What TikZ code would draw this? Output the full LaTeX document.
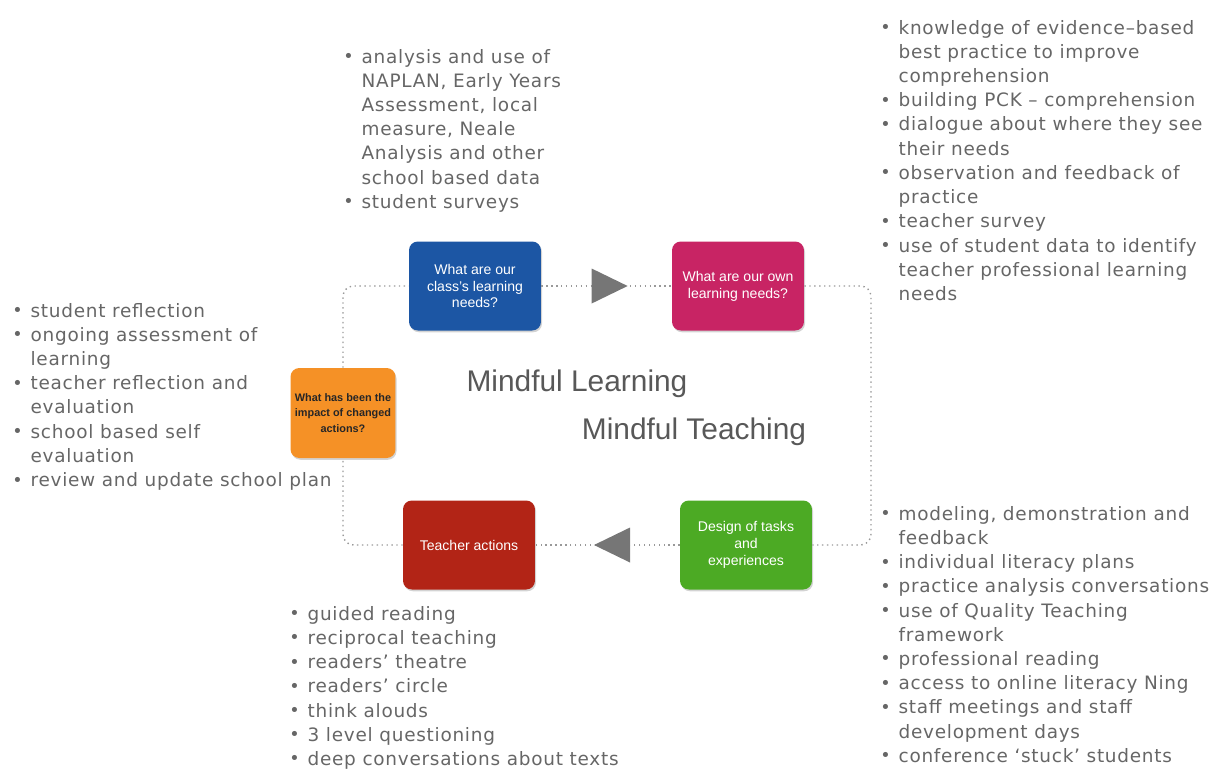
\documentclass[tikz,border=0pt]{standalone}
\usepackage{fontspec}
\setmainfont{Liberation Sans}
\newfontfamily\listfont[LetterSpace=4]{DejaVu Sans}
\usetikzlibrary{shapes.geometric, shadows, positioning}

\definecolor{clsblue}{RGB}{28,86,164}
\definecolor{ownpink}{RGB}{200,36,100}
\definecolor{imporange}{RGB}{245,145,38}
\definecolor{actred}{RGB}{178,36,22}
\definecolor{desgreen}{RGB}{76,170,36}
\definecolor{listgray}{RGB}{102,102,102}
\definecolor{titlegray}{RGB}{88,88,88}
\definecolor{tripgray}{RGB}{118,118,118}

% bullet for the lists
\newcommand\bul{\raisebox{0.05ex}{\fontsize{10}{10}\selectfont •}}

\tikzset{
  stepbox/.style={rounded corners=5pt, minimum width=2.64cm, minimum height=1.78cm,
    inner sep=2pt, align=center, text=white, font=\fontsize{8}{9.6}\selectfont,
    drop shadow={shadow xshift=0.6pt, shadow yshift=-1pt, opacity=0.35}},
  loopline/.style={draw=gray!80, dotted, line width=0.8pt, rounded corners=6pt},
  turn/.style={isosceles triangle, isosceles triangle stretches, fill=tripgray,
    draw=none, solid, sharp corners, inner sep=0pt, minimum width=0.7cm, minimum height=0.72cm},
  notes/.style={anchor=base west, inner sep=0pt, text=listgray,
    font=\listfont\fontsize{10.5}{13.8}\selectfont},
  title/.style={text=titlegray, font=\fontsize{17}{20}\selectfont}
}

\begin{document}
\begin{tikzpicture}[x=0.02cm, y=-0.02cm]

  \useasboundingbox (0,0) rectangle (1213,769);

  % --- CAIXAS DO CICLO ---
  \node[stepbox, fill=clsblue] (cls) at (475,286) {What are our\\class’s learning\\needs?};
  \node[stepbox, fill=ownpink] (own) at (738,286) {What are our own\\learning needs?};
  \node[stepbox, fill=imporange, minimum width=2.1cm, minimum height=1.8cm,
        text=black!85, font=\bfseries\fontsize{6.2}{8.8}\selectfont] (imp) at (343,413)
        {What has been the\\impact of changed\\actions?};
  \node[stepbox, fill=actred] (act) at (469,545) {Teacher actions};
  \node[stepbox, fill=desgreen] (des) at (746,545) {Design of tasks\\and\\experiences};

  % cantos do laço pontilhado
  \coordinate (tr) at (871,286);
  \coordinate (br) at (871,545);
  \coordinate (bl) at (343,545);
  \coordinate (tl) at (343,286);

  % --- LAÇO PONTILHADO ---
  \draw[loopline] (cls.east) -- node[turn, pos=0.47] (tri1) {} (own.west);
  \draw[loopline] (own.east) -- (tr) -- (br) -- (des.east);
  \draw[loopline] (des.west) -- node[turn, shape border rotate=180, pos=0.42] (tri2) {} (act.east);
  \draw[loopline] (act.west) -- (bl) -- (imp.south);
  \draw[loopline] (imp.north) -- (tl) -- (cls.west);

  % --- TITULOS ---
  \node[title] (learn) at (577,384) {Mindful Learning};
  \node[title] (teach) at (694,432) {Mindful Teaching};

  % --- LISTAS ---
  % Acima (dados dos alunos)
  \node[notes] (listcls) at (343,63) {\begin{tabular}[t]{@{}l@{\hspace{4.5pt}}l@{}}
    \bul & analysis and use of\\
         & NAPLAN, Early Years\\
         & Assessment, local\\
         & measure, Neale\\
         & Analysis and other\\
         & school based data\\
    \bul & student surveys
  \end{tabular}};

  % Direita acima (necessidades dos professores)
  \node[notes] (listown) at (880,34) {\begin{tabular}[t]{@{}l@{\hspace{4.5pt}}l@{}}
    \bul & knowledge of evidence–based\\
         & best practice to improve\\
         & comprehension\\
    \bul & building PCK – comprehension\\
    \bul & dialogue about where they see\\
         & their needs\\
    \bul & observation and feedback of\\
         & practice\\
    \bul & teacher survey\\
    \bul & use of student data to identify\\
         & teacher professional learning\\
         & needs
  \end{tabular}};

  % Esquerda (impacto)
  \node[notes] (listimp) at (12,317) {\begin{tabular}[t]{@{}l@{\hspace{4.5pt}}l@{}}
    \bul & student reflection\\
    \bul & ongoing assessment of\\
         & learning\\
    \bul & teacher reflection and\\
         & evaluation\\
    \bul & school based self\\
         & evaluation\\
    \bul & review and update school plan
  \end{tabular}};

  % Abaixo (ações)
  \node[notes] (listact) at (289,620) {\begin{tabular}[t]{@{}l@{\hspace{4.5pt}}l@{}}
    \bul & guided reading\\
    \bul & reciprocal teaching\\
    \bul & readers’ theatre\\
    \bul & readers’ circle\\
    \bul & think alouds\\
    \bul & 3 level questioning\\
    \bul & deep conversations about texts
  \end{tabular}};

  % Direita abaixo (design)
  \node[notes] (listdes) at (880,520) {\begin{tabular}[t]{@{}l@{\hspace{4.5pt}}l@{}}
    \bul & modeling, demonstration and\\
         & feedback\\
    \bul & individual literacy plans\\
    \bul & practice analysis conversations\\
    \bul & use of Quality Teaching\\
         & framework\\
    \bul & professional reading\\
    \bul & access to online literacy Ning\\
    \bul & staff meetings and staff\\
         & development days\\
    \bul & conference ‘stuck’ students
  \end{tabular}};

\end{tikzpicture}
\end{document}
